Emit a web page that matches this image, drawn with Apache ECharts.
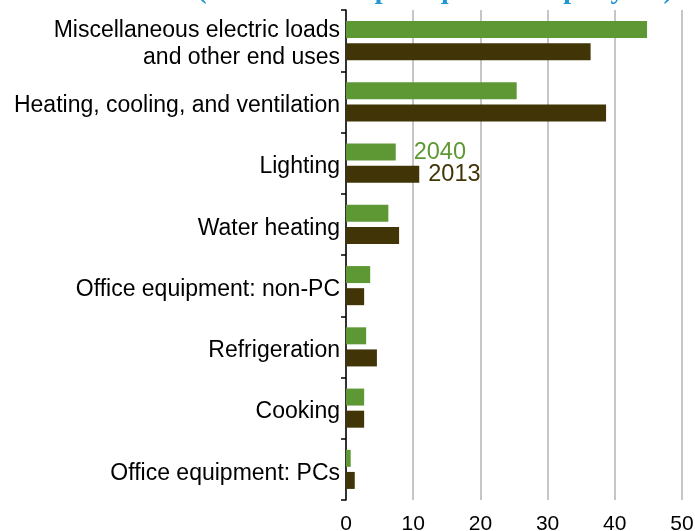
<!DOCTYPE html>
<html>
<head>
<meta charset="utf-8">
<script src="https://cdn.jsdelivr.net/npm/echarts@6/dist/echarts.min.js"></script>
<style>
  html, body { margin: 0; padding: 0; background: #fff; }
  #main { width: 695px; height: 531px; }
</style>
</head>
<body>
<div id="main"></div>
<script>
// categories, top to bottom
var categories = [
  'Miscellaneous electric loads\nand other end uses',
  'Heating, cooling, and ventilation',
  'Lighting',
  'Water heating',
  'Office equipment: non-PC',
  'Refrigeration',
  'Cooking',
  'Office equipment: PCs'
];
var values2040 = [44.8, 25.4, 7.4, 6.3, 3.6, 3.0, 2.7, 0.7];
var values2013 = [36.4, 38.7, 10.9, 7.9, 2.7, 4.6, 2.7, 1.3];
var xTicks = [0, 10, 20, 30, 40, 50];
var labelIndex = 2; // Lighting carries the year labels

var green = '#5e9834';
var brown = '#413406';

function withLabel(arr, name, color, dist) {
  return arr.map(function (v, i) {
    if (i !== labelIndex) return v;
    return {
      value: v,
      label: {
        show: true,
        position: 'right',
        distance: dist,
        formatter: name,
        color: color,
        fontSize: 23.5,
        fontFamily: 'Liberation Sans'
      }
    };
  });
}

var chart = echarts.init(document.getElementById('main'), null, { renderer: 'canvas' });

var option = {
  backgroundColor: '#fff',
  animation: false,
  title: {
    text: '(thousand Btu per square foot per year)',
    left: 430,
    textAlign: 'center',
    top: -28,
    textStyle: {
      color: '#2196d6',
      fontFamily: 'Liberation Serif',
      fontWeight: 'bold',
      fontSize: 28
    }
  },
  grid: {
    left: 346,
    top: 10,
    right: 13,
    bottom: 31,
    containLabel: false,
    outerBoundsMode: 'none'
  },
  xAxis: {
    type: 'value',
    min: xTicks[0],
    max: xTicks[xTicks.length - 1],
    interval: 10,
    axisLine: { show: false },
    axisTick: { show: false },
    axisLabel: {
      color: '#000',
      fontSize: 21,
      fontFamily: 'Liberation Sans',
      margin: 14
    },
    splitLine: {
      show: true,
      lineStyle: { color: '#c6c6c6', width: 2 }
    }
  },
  yAxis: {
    type: 'category',
    data: categories,
    inverse: true,
    axisLine: { show: true, lineStyle: { color: '#000', width: 1.5 } },
    axisTick: { show: true, length: 5, lineStyle: { color: '#000', width: 1.5 } },
    axisLabel: {
      color: '#000',
      fontSize: 23,
      fontFamily: 'Liberation Sans',
      align: 'right',
      margin: 6,
      formatter: function (v) {
        return v.split('\n').map(function (s) { return '{a|' + s + '}'; }).join('\n');
      },
      rich: {
        a: {
          color: '#000',
          fontSize: 23,
          fontFamily: 'Liberation Sans',
          lineHeight: 27,
          padding: [8, 0, 0, 0]
        }
      }
    },
    splitLine: { show: false }
  },
  series: [
    {
      name: '2040',
      type: 'bar',
      data: withLabel(values2040, '2040', green, 18),
      barWidth: 17,
      barGap: '30%',
      itemStyle: { color: green }
    },
    {
      name: '2013',
      type: 'bar',
      data: withLabel(values2013, '2013', brown, 9),
      barWidth: 17,
      barGap: '30%',
      itemStyle: { color: brown }
    }
  ]
};

chart.setOption(option);
</script>
</body>
</html>
